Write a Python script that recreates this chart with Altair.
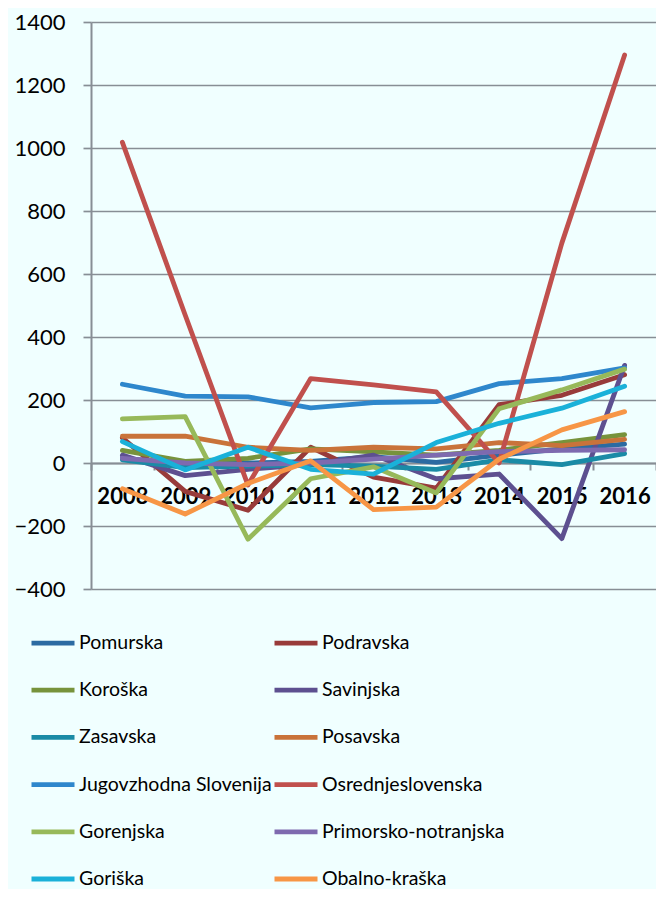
import altair as alt
import pandas as pd

years = ["2008", "2009", "2010", "2011", "2012", "2013", "2014", "2015", "2016"]

regions = [
    "Pomurska", "Podravska",
    "Koroška", "Savinjska",
    "Zasavska", "Posavska",
    "Jugovzhodna Slovenija", "Osrednjeslovenska",
    "Gorenjska", "Primorsko-notranjska",
    "Goriška", "Obalno-kraška",
]

pomurska = [15, -2, 0, 5, 20, 2, 25, 45, 60]
podravska = [80, -90, -150, 50, -45, -80, 185, 215, 280]
koroska = [40, 5, 15, 45, 35, 25, 40, 65, 90]
savinjska = [25, -40, -20, -5, 25, -50, -35, -240, 310]
zasavska = [10, -15, -10, -5, -10, -20, 10, -5, 30]
posavska = [85, 85, 50, 40, 50, 45, 65, 55, 75]
jugovzhodna = [250, 212, 210, 175, 192, 195, 252, 268, 302]
osrednjeslovenska = [1018, 470, -70, 268, 248, 226, 0, 698, 1295]
gorenjska = [140, 147, -242, -50, -12, -95, 172, 232, 298]
primorsko = [15, 0, -5, 0, 12, 25, 36, 40, 42]
goriska = [68, -22, 50, -20, -35, 65, 126, 174, 244]
obalno = [-82, -162, -65, 7, -148, -140, 12, 105, 163]

series = [pomurska, podravska, koroska, savinjska, zasavska, posavska,
          jugovzhodna, osrednjeslovenska, gorenjska, primorsko, goriska, obalno]

colors = ["#2C6BA2", "#983B3A", "#77933C", "#5D5090", "#1A8BA6", "#C9733A",
          "#2E87CC", "#C0504D", "#97B95A", "#7E6AAF", "#1AB1D9", "#F79646"]

rows = []
for name, vals in zip(regions, series):
    for yr, v in zip(years, vals):
        rows.append({"regija": name, "leto": yr, "vrednost": v})
df = pd.DataFrame(rows)

grid_col = "#878E95"

chart = alt.Chart(df).mark_line(
    strokeWidth=4.8, strokeCap="round", strokeJoin="round"
).encode(
    x=alt.X(
        "leto:O",
        bandPosition=0.5,
        scale=alt.Scale(type="band", paddingInner=0, paddingOuter=0),
        axis=alt.Axis(
            title=None, orient="bottom", offset=-126, tickBand="extent",
            labelAngle=0, labelFont="Lato", labelFontSize=22,
            labelFontWeight="bold", labelColor="black", labelPadding=16,
            labelOverlap=False, domainColor=grid_col, domainWidth=2,
            tickColor=grid_col, tickWidth=2, tickSize=7, grid=False,
        ),
    ),
    y=alt.Y(
        "vrednost:Q",
        scale=alt.Scale(domain=[-400, 1400], nice=False, zero=False),
        axis=alt.Axis(
            title=None, values=list(range(-400, 1401, 200)), format="d",
            grid=True, gridColor=grid_col, gridWidth=1.7, gridOpacity=1,
            domainColor=grid_col, domainWidth=2, tickColor=grid_col,
            tickWidth=1.7, tickSize=8, labelFont="Lato", labelFontSize=22,
            labelColor="black", labelPadding=18,
        ),
    ),
    color=alt.Color(
        "regija:N",
        scale=alt.Scale(domain=regions, range=colors),
        legend=alt.Legend(
            title=None, orient="none", legendX=-62, legendY=597, columns=2,
            direction="horizontal",
            symbolType="stroke", symbolSize=1849, symbolStrokeWidth=4.8,
            labelFont="Lato", labelFontSize=19.5, labelColor="black",
            labelOffset=2, rowPadding=13.2, columnPadding=-8, labelLimit=400,
            labelExpr="indexof(['Koroška','Zasavska','Gorenjska'], datum.label) >= 0 ? '\u00a0' + datum.label : datum.label",
        ),
    ),
).properties(
    width=565, height=567,
    autosize=alt.AutoSizeParams(type="none"),
    padding={"left": 83, "top": 14, "right": 0, "bottom": 300},
    background="#F0FFFF",
).configure_view(stroke=None, fill="#F0FFFF")

chart.save("out.html", embed_options={"renderer": "svg", "actions": False})
